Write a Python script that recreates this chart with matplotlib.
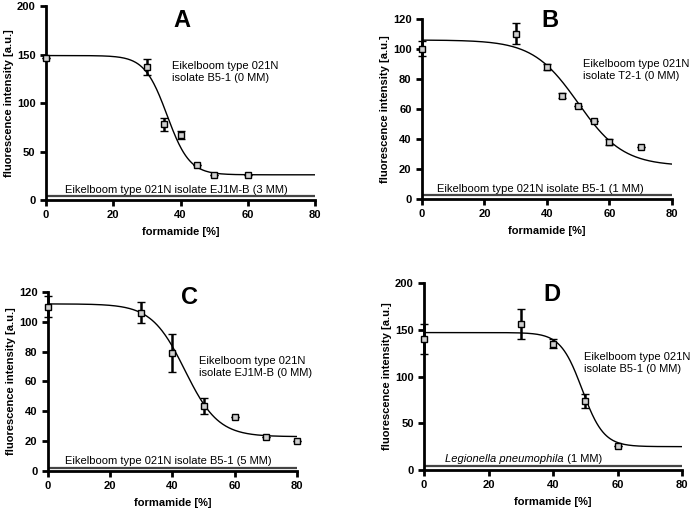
import matplotlib.pyplot as plt
import numpy as np

plt.rcParams['font.family'] = ['Liberation Sans', 'DejaVu Sans']

# measured points (formamide %, intensity, error)
a_x = [0, 30, 35, 40, 45, 50, 60]
a_y = [146, 137, 78, 67, 36, 26, 26]
a_err = [0, 8, 6.5, 4.5, 0, 0, 0]

b_x = [0, 30, 40, 45, 50, 55, 60, 70]
b_y = [100, 110, 88, 69, 62, 52, 38, 35]
b_err = [5, 7, 2, 1.5, 0, 0, 2.2, 0]

c_x = [0, 30, 40, 50, 60, 70, 80]
c_y = [110, 106, 79, 43.5, 36, 23, 20]
c_err = [7, 7, 12.5, 5.5, 0, 0, 0]

d_x = [0, 30, 40, 50, 60]
d_y = [140, 156, 135, 73.5, 26]
d_err = [16, 16, 5, 7.5, 0]

# sigmoid fit parameters: top, bottom, x50, slope
a_fit = (149, 26, 36, 0.13)
b_fit = (106, 22, 50, 0.06)
c_fit = (112, 23, 44, 0.081)
d_fit = (147, 25, 49, 0.13)

# mismatch probe signal levels (flat)
mm_levels = [4, 2.7, 1.8, 4.5]

match_labels = [
    "Eikelboom type 021N\nisolate B5-1 (0 MM)",
    "Eikelboom type 021N\nisolate T2-1 (0 MM)",
    "Eikelboom type 021N\nisolate EJ1M-B (0 MM)",
    "Eikelboom type 021N\nisolate B5-1 (0 MM)",
]
mm_labels = [
    "Eikelboom type 021N isolate EJ1M-B (3 MM)",
    "Eikelboom type 021N isolate B5-1 (1 MM)",
    "Eikelboom type 021N isolate B5-1 (5 MM)",
    None,
]
panel_letters = ["A", "B", "C", "D"]
ylims = [200, 120, 120, 200]
ysteps = [50, 20, 20, 50]

fig = plt.figure(figsize=(6.94, 5.13), dpi=100)
rects = [
    [0.0663, 0.6101, 0.3876, 0.378],
    [0.608, 0.612, 0.360, 0.351],
    [0.069, 0.0819, 0.359, 0.349],
    [0.611, 0.0838, 0.372, 0.3645],
]

data = [(a_x, a_y, a_err, a_fit), (b_x, b_y, b_err, b_fit),
        (c_x, c_y, c_err, c_fit), (d_x, d_y, d_err, d_fit)]

# text positions in data units
letter_pos = [(40.4, 185), (41, 119), (45.6, 116), (39.7, 188)]
match_pos = [(37.5, 132), (51.5, 86), (48.5, 70), (49.6, 114)]
mm_pos = [(5.7, 5.5), (4.8, 3.6), (5.5, 3.2), (6.5, 6.5)]

xs = np.linspace(0, 80, 400)

for i, (x, y, err, fit) in enumerate(data):
    ax = fig.add_axes(rects[i])
    top, bot, x50, s = fit
    curve = bot + (top - bot) / (1 + 10 ** ((xs - x50) * s))
    ax.plot(xs, curve, color='black', lw=1.0, zorder=2)
    ax.axhline(mm_levels[i], color='#444444', lw=1.6, zorder=2)
    ax.errorbar(x, y, yerr=err, fmt='s', ms=4.5, mfc='#d0d0d0', mec='black',
                mew=1.0, ecolor='black', elinewidth=1.8, capsize=3,
                capthick=1.8, zorder=3, clip_on=False)

    ax.set_xlim(0, 80)
    ax.set_ylim(0, ylims[i])
    ax.set_xticks(range(0, 81, 20))
    ax.set_yticks(range(0, ylims[i] + 1, ysteps[i]))
    for sp in ['top', 'right']:
        ax.spines[sp].set_visible(False)
    for sp in ['left', 'bottom']:
        ax.spines[sp].set_linewidth(2)
    ax.tick_params(width=2, length=4, labelsize=8)
    for lab in ax.get_xticklabels() + ax.get_yticklabels():
        lab.set_fontweight('bold')
    ax.set_xlabel("formamide [%]", fontsize=8, fontweight='bold', labelpad=5)
    ax.set_ylabel("fluorescence intensity [a.u.]", fontsize=8,
                  fontweight='bold', labelpad=2)

    lx, ly = letter_pos[i]
    ax.text(lx, ly, panel_letters[i], fontsize=17, fontweight='bold',
            ha='center', va='center')
    mx, my = match_pos[i]
    ax.text(mx, my, match_labels[i], fontsize=8, ha='left', va='center',
            linespacing=1.25)
    px, py = mm_pos[i]
    if mm_labels[i] is not None:
        ax.text(px, py, mm_labels[i], fontsize=8, ha='left', va='bottom')
    else:
        t = ax.text(px, py, "Legionella pneumophila", fontsize=8,
                    style='italic', ha='left', va='bottom')
        ax.annotate(" (1 MM)", xycoords=t, xy=(1, 0), va='bottom',
                    fontsize=8, ha='left')

fig.savefig("out.png", dpi=100)
